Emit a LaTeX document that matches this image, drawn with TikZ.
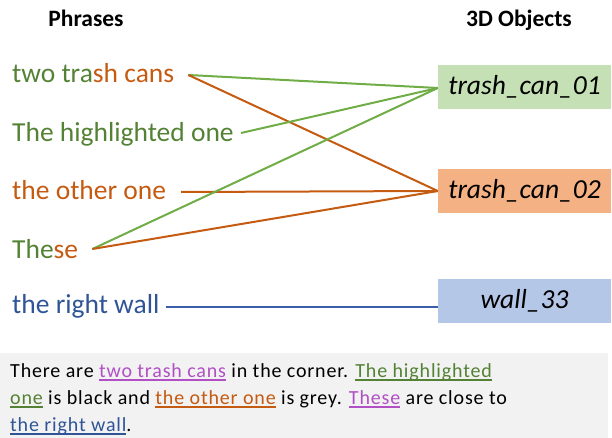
\documentclass[tikz,border=0pt]{standalone}
\usepackage{fontspec}
\setmainfont{Carlito}
\newfontfamily\sentfont[LetterSpace=4.2]{Carlito}
\definecolor{tgtext}{HTML}{548235}
\definecolor{tgline}{HTML}{70AD47}
\definecolor{totext}{HTML}{C55A11}
\definecolor{tbtext}{HTML}{2F5597}
\definecolor{tbline}{HTML}{3A5FA8}
\definecolor{tmag}{HTML}{B14FC5}
\definecolor{boxg}{HTML}{C5E0B4}
\definecolor{boxo}{HTML}{F4B183}
\definecolor{boxb}{HTML}{B4C7E7}
\definecolor{greybg}{HTML}{F2F2F2}
\newcommand{\ulc}[2]{{\color{#1}\setbox0\hbox{#2}\rlap{\rule[-3.5pt]{\wd0}{1.4pt}}\box0}}
\begin{document}
\begin{tikzpicture}[x=1pt,y=-1pt,
  header/.style={font=\fontsize{23.5}{26}\selectfont\bfseries, inner sep=0pt, anchor=base},
  phrase/.style={font=\fontsize{27.5}{30}\selectfont, inner sep=0pt, anchor=base west},
  objbox/.style={minimum width=173pt, minimum height=44pt, inner sep=0pt,
    font=\fontsize{27.5}{30}\selectfont\itshape},
  link/.style={line width=2pt},
  glink/.style={link, draw=tgline},
  olink/.style={link, draw=totext},
  blink/.style={link, draw=tbline}]
\useasboundingbox (0,0) rectangle (612,438);
\fill[greybg] (0,353) rectangle (608,438);
% headers
\node[header] (hp) at (86,27) {Phrases};
\node[header] (ho) at (519,27) {3D Objects};
% phrases
\node[phrase] (p1) at (12,83) {\textcolor{tgtext}{two tra}\textcolor{totext}{sh cans}};
\node[phrase,text=tgtext] (p2) at (12,142) {The highlighted one};
\node[phrase,text=totext] (p3) at (12,200) {the other one};
\node[phrase] (p4) at (12,258) {\textcolor{tgtext}{The}\textcolor{totext}{se}};
\node[phrase,text=tbtext] (p5) at (12,313) {the right wall};
% objects
\node[objbox, fill=boxg] (o1) at (524.5,87) {trash\_can\_01};
\node[objbox, fill=boxo] (o2) at (524.5,191) {trash\_can\_02};
\node[objbox, fill=boxb] (o3) at (524.5,301) {wall\_33};
% connectors
\draw[glink] ([xshift=14pt,yshift=8pt]p1.base east) -- ([yshift=-1pt]o1.west);
\draw[olink] ([xshift=14pt,yshift=8pt]p1.base east) -- (o2.west);
\draw[glink] ([xshift=7pt,yshift=9pt]p2.base east) -- ([yshift=-1pt]o1.west);
\draw[olink] ([xshift=15pt,yshift=8pt]p3.base east) -- (o2.west);
\draw[glink] ([xshift=14pt,yshift=9pt]p4.base east) -- ([yshift=-1pt]o1.west);
\draw[olink] ([xshift=14pt,yshift=9pt]p4.base east) -- (o2.west);
\draw[blink] ([xshift=6pt,yshift=6pt]p5.base east) -- ([yshift=-6pt]o3.west);
% sentence
\node[anchor=base west, inner sep=0pt, align=left,
  font=\fontsize{20}{27}\sentfont] (sent) at (10,431)
  {There are \ulc{tmag}{two trash cans} in the corner. \ulc{tgtext}{The highlighted}\\
   \ulc{tgtext}{one} is black and \ulc{totext}{the other one} is grey. \ulc{tmag}{These} are close to\\
   \ulc{tbtext}{the right wall}.};
\end{tikzpicture}
\end{document}
